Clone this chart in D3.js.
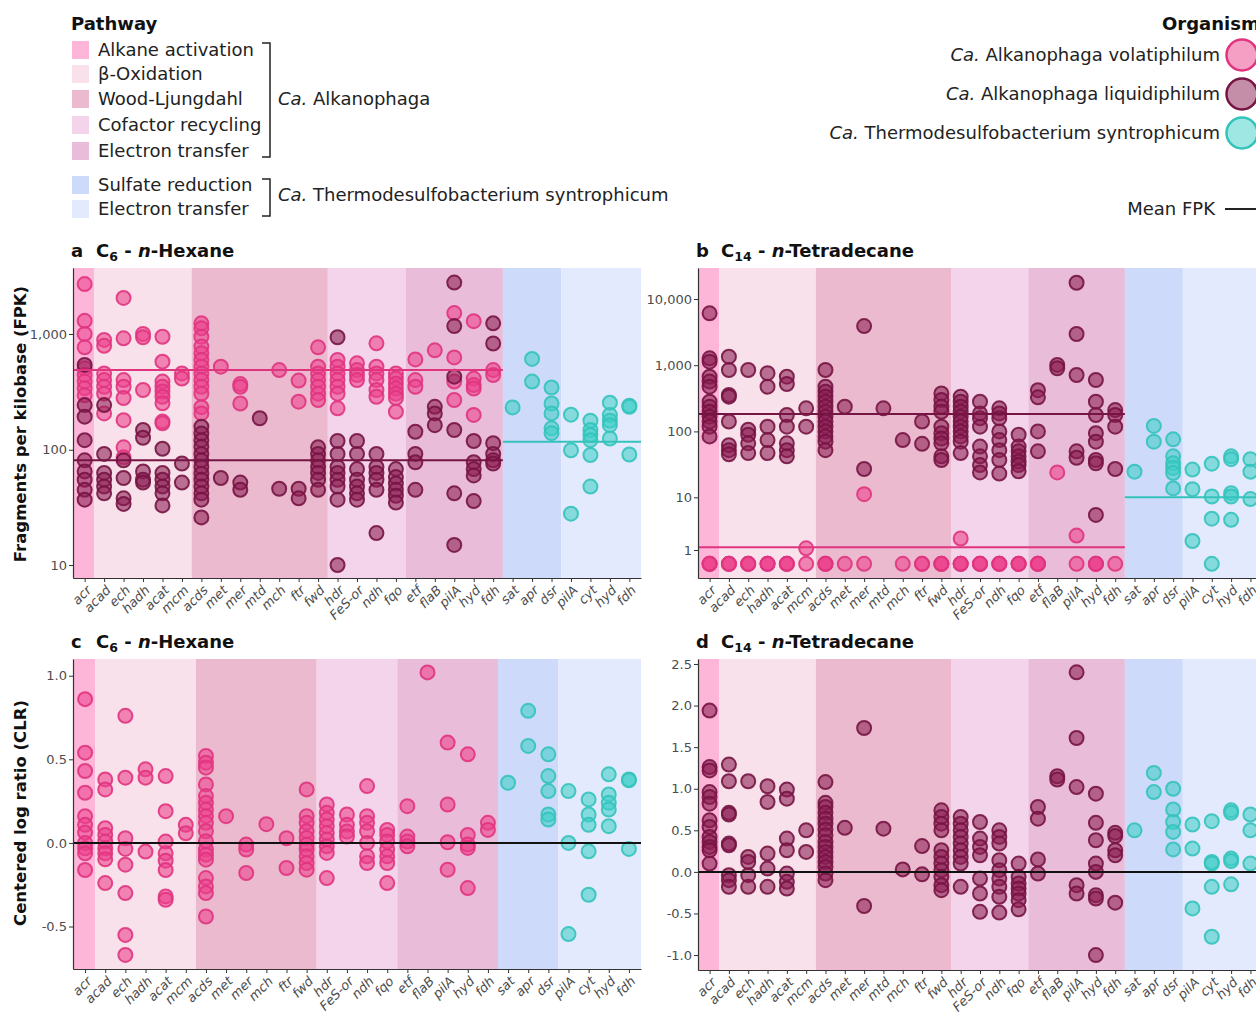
<!DOCTYPE html>
<html>
<head>
<meta charset="utf-8">
<script src="https://cdn.jsdelivr.net/npm/d3@7"></script>
<style>
  body { margin: 0; background: #fff; }
  svg { font-family: "DejaVu Sans", Verdana, sans-serif; }
</style>
</head>
<body>
<svg id="chart" width="1256" height="1012"></svg>
<script>
// ---- categories -------------------------------------------------------
const alkGenes = ["acr","acad","ech","hadh","acat","mcm","acds","met","mer","mtd","mch","ftr","fwd",
                  "hdr","FeS-or","ndh","fqo","etf","flaB","pilA","hyd","fdh"];
const alkPathways = ["act","box","box","box","box","box","wl","wl","wl","wl","wl","wl","wl",
                     "cof","cof","cof","cof","etA","etA","etA","etA","etA"];
const thermoGenes = ["sat","apr","dsr","pilA","cyt","hyd","fdh"];
const thermoPathways = ["sr","sr","sr","etT","etT","etT","etT"];

// pathway legend
const pathwayKeys   = ["act","box","wl","cof","etA","sr","etT"];
const pathwayNames  = ["Alkane activation","β-Oxidation","Wood-Ljungdahl","Cofactor recycling",
                       "Electron transfer","Sulfate reduction","Electron transfer"];
const pathwayColors = ["#FDB5D8","#F8E1EA","#EBBACE","#F3D4EA","#E9BDD9","#CEDAFA","#E4EAFD"];

// organisms
const organismNames = ["Alkanophaga volatiphilum","Alkanophaga liquidiphilum","Thermodesulfobacterium syntrophicum"];
const organismFill   = ["#EC3F8C","#8C1D52","#3ECFC6"];
const organismStroke = ["#E0347F","#761443","#34C3BB"];

// ---- FPK, C6 n-hexane ---------------------------------------------------
const hexVolFPK = [
  [2700,1300,1000,767,505,442,388,340,295],
  [888,790,456,400,350,305,206],
  [2050,917,400,350,280,180,105,86],
  [1000,936,328],
  [947,577,388,350,318,287,252,175,169],
  [456,412],
  [1237,1118,947,778,681,596,522,456,400,350,305,233,206],
  [522],
  [369,350,251],
  [],
  [488],
  [396,260],
  [767,522,456,400,350,305,269],
  [596,522,456,400,350,305,228],
  [558,488,442,400],
  [830,522,456,400,328,287],
  [456,412,371,338,305,280,213],
  [603,400,350],
  [722],
  [1515,627,388,269],
  [1290,412,362,338,200],
  [488,442]
];
const hexLiqFPK = [
  [540,243,193,121,81,65,55,45,37],
  [243,92,63,55,48,42],
  [81,57,38,34],
  [148,127,65,55,52],
  [102,63,55,48,42,33],
  [76,52],
  [158,138,121,106,92,81,71,62,55,48,42,37,26],
  [57],
  [52,45],
  [187],
  [46],
  [46,38],
  [105,92,81,71,63,55,45],
  [937,119,92,71,63,55,48,37,10],
  [119,92,68,55,48,42,37],
  [92,71,63,55,45,19],
  [68,58,51,45,40,35],
  [143,92,78,45],
  [235,206,163],
  [2780,1170,428,148,42,15],
  [119,78,68,60,36],
  [1235,827,114,92,81,76]
];
const hexThermoFPK = [
  [232],
  [609,388],
  [345,251,206,153,139],
  [201,99,28],
  [178,148,134,121,90,48],
  [255,200,178,163,125],
  [240,235,91]
];
const hexMeanFPK = [488, 81, 117];   // volatiphilum, liquidiphilum, thermodesulfobacterium

// ---- FPK, C14 n-tetradecane ---------------------------------------------
const tetVolFPK = [
  [0,0,0],[0,0,0],[0,0,0],[0,0,0],[0,0,0],[1.13,0],[0,0,0],[0],[11.2,0],[],[0],[0,0],[0,0,0],
  [2.0,0,0,0],[0,0,0],[0,0,0],[0,0,0],[0,0,0],[24],[2.3,0],[0,0,0],[0]
];
const tetLiqFPK = [
  [6070,1270,1130,671,565,474,281,236,198,167,141,118,84],
  [1345,846,355,335,141,62,52,45],
  [846,106,89,66,47],
  [758,474,118,74,47],
  [671,520,177,118,66,52,42],
  [223,118],
  [846,474,398,335,281,236,198,167,141,118,100,84,70,52],
  [236],
  [3900,27],
  [223],
  [74],
  [141,65],
  [375,298,236,198,118,94,78,66,42,37],
  [335,281,236,198,167,141,118,100,84,70,47],
  [281,187,158,118,59,42,31,24],
  [223,187,158,100,74,52,37,23],
  [89,59,50,42,35,31,25],
  [420,327,100,50],
  [1010,900],
  [17600,2960,711,50,40],
  [598,281,177,94,70,37,33,5.3],
  [210,177,118,27]
];
const tetThermoFPK = [
  [24.6],
  [121,70],
  [76,42,33,28,23.5,13.7],
  [26.5,13.3,1.76],
  [32.5,10.3,4.6,0],
  [42,38,11.6,10.3,4.4],
  [38,24.6,9.4]
];
const tetMeanFPK = [1.21, 183, 10];

// ---- CLR, C6 n-hexane ---------------------------------------------------
const hexVolCLR = [
  [0.86,0.54,0.43,0.30,0.16,0.108,0.062,0.0,-0.032,-0.062,-0.162],
  [0.38,0.32,0.088,0.048,0.008,-0.032,-0.062,-0.098,-0.24],
  [0.76,0.39,0.028,-0.036,-0.13,-0.30,-0.55,-0.67],
  [0.44,0.39,-0.052],
  [0.40,0.19,0.008,-0.062,-0.106,-0.162,-0.32,-0.34],
  [0.108,0.058],
  [0.52,0.48,0.45,0.35,0.28,0.24,0.20,0.16,0.12,0.07,0.01,-0.04,-0.07,-0.10,-0.21,-0.26,-0.30,-0.44],
  [0.16],
  [-0.01,-0.04,-0.18],
  [],
  [0.112],
  [0.028,-0.15],
  [0.32,0.16,0.12,0.07,0.03,-0.01,-0.04,-0.08,-0.12,-0.16],
  [0.23,0.18,0.14,0.10,0.06,0.02,-0.02,-0.06,-0.21],
  [0.17,0.108,0.068,0.038],
  [0.34,0.16,0.12,0.07,0.0,-0.08,-0.12],
  [0.078,0.048,0.008,-0.04,-0.08,-0.12,-0.24],
  [0.22,0.038,0.008,-0.02],
  [1.02],
  [0.60,0.23,0.004,-0.16],
  [0.53,0.048,-0.01,-0.03,-0.27],
  [0.12,0.078]
];
const hexThermoCLR = [
  [0.36],
  [0.79,0.58],
  [0.53,0.40,0.31,0.17,0.14],
  [0.31,0.0,-0.545],
  [0.26,0.17,0.108,-0.05,-0.31],
  [0.41,0.29,0.24,0.20,0.10],
  [0.38,0.375,-0.036]
];

// ---- CLR, C14 n-tetradecane ---------------------------------------------
const tetLiqCLR = [
  [1.94,1.26,1.22,0.96,0.90,0.82,0.62,0.54,0.42,0.36,0.30,0.26,0.10],
  [1.29,1.09,0.71,0.69,0.34,0.32,-0.04,-0.10,-0.18],
  [1.09,0.18,0.12,-0.04,-0.18],
  [1.03,0.84,0.22,0.04,-0.18],
  [0.99,0.88,0.40,0.26,-0.02,-0.12,-0.20],
  [0.50,0.24],
  [1.08,0.83,0.78,0.71,0.64,0.58,0.51,0.44,0.36,0.30,0.24,0.18,0.12,0.06,-0.02,-0.10],
  [0.53],
  [1.73,-0.41],
  [0.52],
  [0.03],
  [0.31,-0.03],
  [0.74,0.66,0.58,0.50,0.26,0.18,0.10,0.02,-0.06,-0.16,-0.22],
  [0.66,0.58,0.50,0.42,0.34,0.26,0.18,0.10,-0.18],
  [0.60,0.40,0.30,0.20,-0.08,-0.26,-0.48],
  [0.50,0.42,0.34,0.14,0.02,-0.08,-0.18,-0.30,-0.49],
  [0.10,-0.06,-0.14,-0.20,-0.26,-0.34,-0.45],
  [0.78,0.64,0.15,-0.02],
  [1.15,1.11],
  [2.40,1.61,1.02,-0.16,-0.26],
  [0.94,0.59,0.38,0.10,0.0,-0.28,-0.32,-1.00],
  [0.47,0.43,0.26,0.20,-0.37]
];
const tetThermoCLR = [
  [0.50],
  [1.19,0.96],
  [1.00,0.75,0.60,0.48,0.27],
  [0.57,0.28,-0.44],
  [0.61,0.12,0.10,-0.18,-0.78],
  [0.74,0.71,0.16,0.13,-0.15],
  [0.69,0.50,0.10]
];

// tick values
const fpkTicksHex = [10, 100, 1000];
const fpkTicksTet = [1, 10, 100, 1000, 10000];
const clrTicksHex = [-0.5, 0, 0.5, 1.0];
const clrTicksTet = [-1.0, -0.5, 0, 0.5, 1.0, 1.5, 2.0, 2.5];

// ---- drawing ------------------------------------------------------------
const svg = d3.select("#chart");
const pseudoLog = v => Math.asinh(v / 2) / Math.LN10;   // pseudo-log (sigma = 1, base 10)
const fmtComma = d3.format(",");
const fmtOne = v => v.toFixed(1);
const R = 7;

const panels = [
  { letter: "a", sub: "6",  name: "Hexane", box: [73, 641, 268, 578], log: true,
    domain: [0.892, 3.57], ticks: fpkTicksHex, alk: [[0, hexVolFPK], [1, hexLiqFPK]],
    thermo: hexThermoFPK, means: hexMeanFPK },
  { letter: "b", sub: "14", name: "Tetradecane", box: [698, 1262, 268, 578], log: true,
    domain: [-0.214, 4.468], ticks: fpkTicksTet, alk: [[0, tetVolFPK], [1, tetLiqFPK]],
    thermo: tetThermoFPK, means: tetMeanFPK },
  { letter: "c", sub: "6",  name: "Hexane", box: [73, 641, 659, 969], log: false,
    domain: [-0.754, 1.10], ticks: clrTicksHex, alk: [[0, hexVolCLR]],
    thermo: hexThermoCLR, zero: true },
  { letter: "d", sub: "14", name: "Tetradecane", box: [698, 1262, 659, 970], log: false,
    domain: [-1.18, 2.56], ticks: clrTicksTet, alk: [[1, tetLiqCLR]],
    thermo: tetThermoCLR, zero: true }
];

panels.forEach(p => {
  const [L, Rt, T, B] = p.box;
  const g = svg.append("g");

  // categories present in this panel
  const cats = [];
  alkGenes.forEach((gname, i) => {
    if (p.alk.some(([, d]) => d[i].length > 0))
      cats.push({ key: "A|" + gname, label: gname, pw: alkPathways[i], idx: i, grp: "A" });
  });
  thermoGenes.forEach((gname, i) => {
    cats.push({ key: "T|" + gname, label: gname, pw: thermoPathways[i], idx: i, grp: "T" });
  });

  const x = d3.scalePoint().domain(cats.map(c => c.key)).range([L, Rt]).padding(0.6);
  const step = x.step();
  const yLin = d3.scaleLinear().domain(p.domain).range([B, T]);
  const tf = p.log ? pseudoLog : (v => v);
  const y = v => yLin(tf(v));

  // pathway background bands
  const runs = [];
  cats.forEach((c, i) => {
    const last = runs[runs.length - 1];
    if (last && last.pw === c.pw && last.grp === c.grp) last.end = i;
    else runs.push({ pw: c.pw, grp: c.grp, start: i, end: i });
  });
  runs.forEach((r, ri) => {
    const x0 = ri === 0 ? L : x(cats[r.start].key) - step / 2;
    const x1 = ri === runs.length - 1 ? Rt : x(cats[r.end].key) + step / 2;
    g.append("rect").attr("x", x0).attr("y", T).attr("width", x1 - x0).attr("height", B - T)
      .attr("fill", pathwayColors[pathwayKeys.indexOf(r.pw)]);
  });

  // points
  const drawSeries = (orgIdx, data, grp, genes) => {
    const pts = [];
    data.forEach((vals, i) => vals.forEach(v => pts.push({ k: grp + "|" + genes[i], v })));
    g.append("g").selectAll("circle").data(pts).join("circle")
      .attr("cx", d => x(d.k)).attr("cy", d => y(d.v)).attr("r", R)
      .attr("fill", organismFill[orgIdx]).attr("fill-opacity", 0.58)
      .attr("stroke", organismStroke[orgIdx]).attr("stroke-opacity", 0.9).attr("stroke-width", 2);
  };
  p.alk.forEach(([org, data]) => drawSeries(org, data, "A", alkGenes));
  drawSeries(2, p.thermo, "T", thermoGenes);

  // mean lines / zero line
  const split = x("A|fdh") + step / 2;
  if (p.means) {
    [[0, L, split], [1, L, split], [2, split, Rt]].forEach(([org, a, b]) => {
      g.append("line").attr("x1", a).attr("x2", b)
        .attr("y1", y(p.means[org])).attr("y2", y(p.means[org]))
        .attr("stroke", organismStroke[org]).attr("stroke-width", 2);
    });
  }
  if (p.zero) {
    g.append("line").attr("x1", L).attr("x2", Rt).attr("y1", y(0)).attr("y2", y(0))
      .attr("stroke", "#111").attr("stroke-width", 2);
  }

  // axes
  const yAxis = d3.axisLeft(yLin).tickValues(p.ticks.map(tf))
    .tickFormat((d, i) => p.log ? fmtComma(p.ticks[i]) : fmtOne(p.ticks[i]))
    .tickSize(4).tickSizeOuter(0).tickPadding(2);
  const ya = g.append("g").attr("transform", `translate(${L},0)`).call(yAxis);
  const xAxis = d3.axisBottom(x).tickFormat(k => k.split("|")[1]).tickSize(4).tickSizeOuter(0);
  const xa = g.append("g").attr("transform", `translate(0,${B})`).call(xAxis);
  [ya, xa].forEach(a => {
    a.select(".domain").attr("stroke", "#333").attr("stroke-width", 1.2);
    a.selectAll(".tick line").attr("stroke", "#333").attr("stroke-width", 1);
    a.selectAll("text").attr("fill", "#4d4d4d").attr("font-size", 13)
      .attr("font-family", "'DejaVu Sans', sans-serif");
  });
  xa.selectAll("text").attr("font-style", "italic").attr("text-anchor", "end")
    .attr("x", 0).attr("y", 0).attr("dy", 0)
    .attr("transform", "translate(7,13) rotate(-45)");

  // panel title
  const t = svg.append("text").attr("x", L - 2).attr("y", T - 11)
    .attr("font-size", 18).attr("font-weight", "bold").attr("fill", "#111");
  t.append("tspan").text(p.letter);
  t.append("tspan").attr("x", L + 23).text("C");
  t.append("tspan").attr("font-size", 12.5).attr("dy", 4).text(p.sub);
  t.append("tspan").attr("dy", -4).text(" - ");
  t.append("tspan").attr("font-style", "italic").text("n");
  t.append("tspan").text("-" + p.name);
});

// y-axis titles
const yTitle = (txt, cy) => svg.append("text")
  .attr("transform", `translate(26,${cy}) rotate(-90)`).attr("text-anchor", "middle")
  .attr("font-size", 16.5).attr("font-weight", "bold").attr("fill", "#111").text(txt);
yTitle("Fragments per kilobase (FPK)", 424);
yTitle("Centered log ratio (CLR)", 813);

// ---- pathway legend -----------------------------------------------------
svg.append("text").attr("x", 71).attr("y", 30).attr("font-size", 18)
  .attr("font-weight", "bold").attr("fill", "#111").text("Pathway");
const rowY = [50, 74, 99, 125, 151, 185, 209];
pathwayNames.forEach((n, i) => {
  svg.append("rect").attr("x", 72).attr("y", rowY[i] - 9).attr("width", 17).attr("height", 18)
    .attr("fill", pathwayColors[i]);
  svg.append("text").attr("x", 98).attr("y", rowY[i] + 6).attr("font-size", 18)
    .attr("fill", "#222").text(n);
});
const bracket = (y0, y1) => svg.append("path")
  .attr("d", `M262,${y0} H270 V${y1} H262`).attr("fill", "none")
  .attr("stroke", "#222").attr("stroke-width", 1.5);
bracket(43, 157);
bracket(179, 216);
const genusLabel = (yy, rest) => {
  const t = svg.append("text").attr("x", 278).attr("y", yy).attr("font-size", 18).attr("fill", "#222");
  t.append("tspan").attr("font-style", "italic").text("Ca.");
  t.append("tspan").text(" " + rest);
};
genusLabel(105, "Alkanophaga");
genusLabel(201, "Thermodesulfobacterium syntrophicum");

// ---- organism legend ----------------------------------------------------
svg.append("text").attr("x", 1162).attr("y", 30).attr("font-size", 18)
  .attr("font-weight", "bold").attr("fill", "#111").text("Organism");
const orgY = [55, 94, 133];
organismNames.forEach((n, i) => {
  svg.append("circle").attr("cx", 1242).attr("cy", orgY[i]).attr("r", 15.5)
    .attr("fill", organismFill[i]).attr("fill-opacity", 0.5)
    .attr("stroke", organismStroke[i]).attr("stroke-width", 2.5);
  const t = svg.append("text").attr("x", 1220).attr("y", orgY[i] + 6).attr("text-anchor", "end")
    .attr("font-size", 18).attr("fill", "#222");
  t.append("tspan").attr("font-style", "italic").text("Ca.");
  t.append("tspan").text(" " + n);
});
svg.append("text").attr("x", 1215).attr("y", 215).attr("text-anchor", "end")
  .attr("font-size", 18).attr("fill", "#222").text("Mean FPK");
svg.append("line").attr("x1", 1225).attr("x2", 1262).attr("y1", 209).attr("y2", 209)
  .attr("stroke", "#222").attr("stroke-width", 2);
</script>
</body>
</html>
